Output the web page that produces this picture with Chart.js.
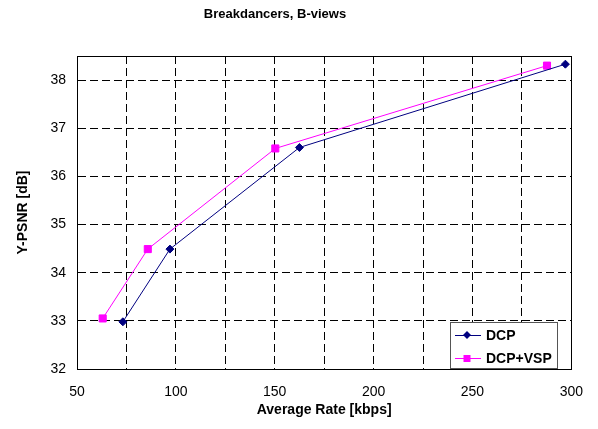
<!DOCTYPE html>
<html>
<head>
<meta charset="utf-8">
<script src="https://cdn.jsdelivr.net/npm/chart.js@4/dist/chart.umd.min.js"></script>
<style>
  html, body { margin: 0; padding: 0; background: #fff; }
  #wrap { width: 598px; height: 429px; }
</style>
</head>
<body>
<div id="wrap"><canvas id="chart"></canvas></div>
<script>
const chartTitle = 'Breakdancers, B-views';
const xTitle = 'Average Rate [kbps]';
const yTitle = 'Y-PSNR [dB]';

const dcpRate = [73.2, 97, 162.5, 297];
const dcpPsnr = [32.98, 34.49, 36.6, 38.33];
const vspRate = [63, 85.8, 150.3, 287.7];
const vspPsnr = [33.05, 34.49, 36.58, 38.3];

const seriesNames = ['DCP', 'DCP+VSP'];
const seriesColors = ['#000080', '#FF00FF'];

const FONT = 'Arial, "Liberation Sans", sans-serif';

function toPoints(xs, ys) {
    return xs.map((x, i) => ({ x: x, y: ys[i] }));
}

// title, frame and inside legend
const extras = {
    id: 'extras',
    afterDraw(chart) {
        const ctx = chart.ctx;
        const a = chart.chartArea;
        ctx.save();

        ctx.fillStyle = '#000';
        ctx.font = 'bold 13px ' + FONT;
        ctx.textAlign = 'center';
        ctx.textBaseline = 'middle';
        ctx.fillText(chartTitle, 275, 14);

        ctx.strokeStyle = '#000';
        ctx.lineWidth = 1;
        ctx.setLineDash([]);
        ctx.strokeRect(Math.round(a.left) + 0.5, Math.round(a.top) + 0.5,
            Math.round(a.right - a.left), Math.round(a.bottom - a.top));

        // legend box
        const bw = 107, bh = 46;
        const bx = Math.round(a.right) - 14 - bw, by = Math.round(a.bottom) - 1 - bh;
        ctx.fillStyle = '#fff';
        ctx.fillRect(bx, by, bw, bh);
        ctx.strokeStyle = '#555';
        ctx.strokeRect(bx + 0.5, by + 0.5, bw, bh);

        chart.data.datasets.forEach((ds, i) => {
            const cy = by + 13 + i * 23;
            const lx1 = bx + 5, lx2 = bx + 31, mx = bx + 17;
            ctx.strokeStyle = ds.borderColor;
            ctx.lineWidth = 1;
            ctx.beginPath();
            ctx.moveTo(lx1, cy + 0.5);
            ctx.lineTo(lx2, cy + 0.5);
            ctx.stroke();
            ctx.fillStyle = ds.borderColor;
            ctx.beginPath();
            if (ds.pointStyle === 'rectRot') {
                ctx.moveTo(mx, cy - 4);
                ctx.lineTo(mx + 4, cy);
                ctx.lineTo(mx, cy + 4);
                ctx.lineTo(mx - 4, cy);
                ctx.closePath();
            } else {
                ctx.rect(mx - 3.5, cy - 3, 7, 7);
            }
            ctx.fill();
            ctx.fillStyle = '#000';
            ctx.font = 'bold 14px ' + FONT;
            ctx.textAlign = 'left';
            ctx.textBaseline = 'middle';
            ctx.fillText(ds.label, bx + 36, cy + 1);
        });
        ctx.restore();
    }
};

new Chart(document.getElementById('chart'), {
    type: 'line',
    data: {
        datasets: [
            {
                label: seriesNames[0],
                data: toPoints(dcpRate, dcpPsnr),
                borderColor: seriesColors[0],
                backgroundColor: seriesColors[0],
                borderWidth: 1,
                pointStyle: 'rectRot',
                pointRadius: 4,
                pointHoverRadius: 4,
                tension: 0
            },
            {
                label: seriesNames[1],
                data: toPoints(vspRate, vspPsnr),
                borderColor: seriesColors[1],
                backgroundColor: seriesColors[1],
                borderWidth: 1,
                pointStyle: 'rect',
                pointRadius: 5,
                pointHoverRadius: 5,
                tension: 0
            }
        ]
    },
    options: {
        responsive: true,
        maintainAspectRatio: false,
        animation: false,
        layout: { padding: { top: 56, right: 25, left: 0, bottom: 0 } },
        plugins: {
            legend: { display: false },
            title: { display: false },
            tooltip: { enabled: false }
        },
        scales: {
            x: {
                type: 'linear',
                min: 50,
                max: 300,
                afterFit(s) { s.height = 60; },
                ticks: {
                    stepSize: 25,
                    color: '#000',
                    font: { family: FONT, size: 14 },
                    padding: 15,
                    maxRotation: 0,
                    autoSkip: false,
                    callback: v => (v % 50 === 0 ? v : '')
                },
                grid: { color: '#000', lineWidth: 1, drawTicks: false },
                border: { display: true, color: '#000', dash: [8, 4] },
                title: {
                    display: true,
                    text: xTitle,
                    color: '#000',
                    font: { family: FONT, size: 14, weight: 'bold' },
                    padding: { top: 0, bottom: 10 }
                }
            },
            y: {
                type: 'linear',
                min: 32,
                max: 38.5,
                afterFit(s) { s.width = 77; },
                ticks: {
                    stepSize: 1,
                    includeBounds: false,
                    color: '#000',
                    font: { family: FONT, size: 14 },
                    padding: 11
                },
                grid: { color: '#000', lineWidth: 1, drawTicks: false },
                border: { display: true, color: '#000', dash: [8, 4] },
                title: {
                    display: true,
                    text: yTitle,
                    color: '#000',
                    font: { family: FONT, size: 14, weight: 'bold' },
                    padding: { top: 15, bottom: 0 }
                }
            }
        }
    },
    plugins: [extras]
});
</script>
</body>
</html>
